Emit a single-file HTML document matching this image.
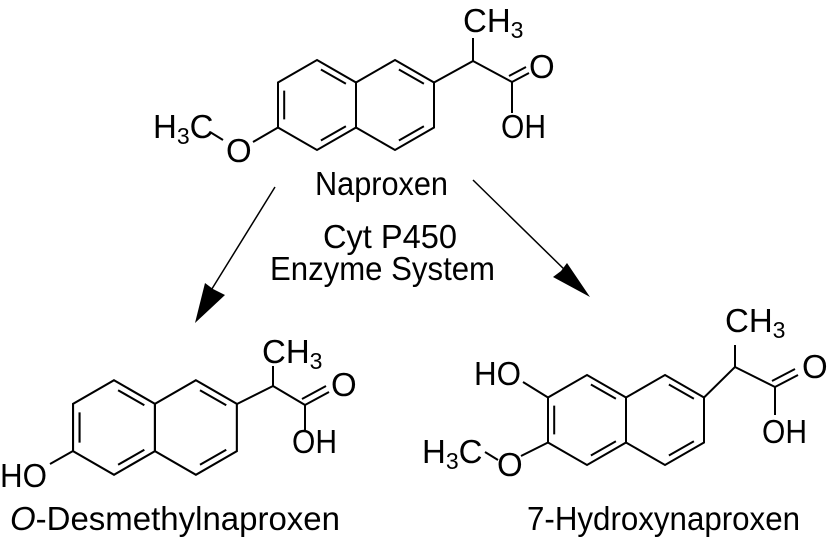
<!DOCTYPE html>
<html><head><meta charset="utf-8"><style>
html,body{margin:0;padding:0;background:#fff}
svg{display:block}
text{font-family:"Liberation Sans",Arial,sans-serif;fill:#000}
</style></head><body>
<svg width="827" height="540" viewBox="0 0 827 540" xmlns="http://www.w3.org/2000/svg">
<defs>
<g id="naph" fill="none" stroke="#000" stroke-width="2">
<path d="M0,-45 L39,-22.5 L39,22.5 L0,45 L-39,22.5 L-39,-22.5Z"/>
<path d="M78,-45 L117,-22.5 L117,22.5 L78,45 L39,22.5 L39,-22.5Z"/>
<path d="M-32.8,-14.4 L-32.8,14.4 M3.9,-35.5 L28.9,-21.2 M3.9,35.5 L28.9,21.2 M81.9,-35.5 L106.9,-21.2 M81.9,35.5 L106.9,21.2"/>
</g>
</defs>

<!-- Naproxen -->
<use href="#naph" transform="translate(317,105)"/>
<g fill="none" stroke="#000" stroke-width="2">
<path d="M434,82.5 L473,61 L473,38 M473,61 L512,82 L512,113 M512,82 L529,73 M509,76 L526,67 M278,127.5 L253,142 M223,140 L210,132"/>
</g>
<text x="463" y="32" font-size="33">CH<tspan font-size="23" dy="6">3</tspan></text>
<text x="529" y="78" font-size="33">O</text>
<text x="501" y="138" font-size="33" textLength="45" lengthAdjust="spacingAndGlyphs">OH</text>
<text x="153" y="138" font-size="33">H<tspan font-size="23" dy="6">3</tspan><tspan dy="-6">C</tspan></text>
<text x="226" y="162" font-size="33">O</text>
<text x="315" y="195" font-size="33" textLength="133" lengthAdjust="spacingAndGlyphs">Naproxen</text>

<text x="323" y="248" font-size="33" textLength="134" lengthAdjust="spacingAndGlyphs">Cyt P450</text>
<text x="270" y="280" font-size="33" textLength="225" lengthAdjust="spacingAndGlyphs">Enzyme System</text>

<!-- arrows -->
<g stroke="#000" stroke-width="1.5" fill="none">
<path d="M275,187 L210,292 M473,180 L570,275"/>
</g>
<path d="M195,323 L205,283 L213,289 L225,295 Z" fill="#000"/>
<path d="M590,297 L567,263 L561,271 L553,277 Z" fill="#000"/>

<!-- O-Desmethylnaproxen -->
<use href="#naph" transform="translate(114,427.5) scale(1.05)"/>
<g fill="none" stroke="#000" stroke-width="2">
<path d="M237,404 L273,386 L273,366 M273,386 L305,405 L305,430 M305,405 L329,392 M302,399 L326,386 M73,451 L50,464"/>
</g>
<text x="262" y="363" font-size="33">CH<tspan font-size="23" dy="6">3</tspan></text>
<text x="331" y="396" font-size="33">O</text>
<text x="292" y="453" font-size="33" textLength="45" lengthAdjust="spacingAndGlyphs">OH</text>
<text x="0" y="487" font-size="33" textLength="47" lengthAdjust="spacingAndGlyphs">HO</text>
<text x="10" y="530" font-size="33" textLength="330" lengthAdjust="spacingAndGlyphs"><tspan font-style="italic">O</tspan>-Desmethylnaproxen</text>

<!-- 7-Hydroxynaproxen -->
<use href="#naph" transform="translate(587,420)"/>
<g fill="none" stroke="#000" stroke-width="2">
<path d="M704,397.5 L735,367 L735,345 M735,367 L775,387 L775,415 M775,387 L798,375 M772,381 L795,369 M523,382 L548,397.5 M548,442.5 L521,456 M498,460 L485,452"/>
</g>
<text x="725" y="332" font-size="33">CH<tspan font-size="23" dy="6">3</tspan></text>
<text x="802" y="378" font-size="33">O</text>
<text x="762" y="443" font-size="33" textLength="45" lengthAdjust="spacingAndGlyphs">OH</text>
<text x="474" y="385" font-size="33" textLength="47" lengthAdjust="spacingAndGlyphs">HO</text>
<text x="422" y="463" font-size="33">H<tspan font-size="23" dy="6">3</tspan><tspan dy="-6">C</tspan></text>
<text x="497" y="476" font-size="33">O</text>
<text x="527" y="530" font-size="33" textLength="273" lengthAdjust="spacingAndGlyphs">7-Hydroxynaproxen</text>
</svg>
</body></html>
